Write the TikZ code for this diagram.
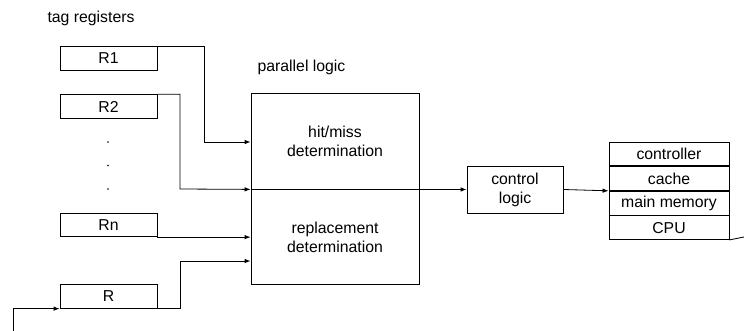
\documentclass[tikz,border=0pt]{standalone}
\usepackage{fontspec}
\setmainfont{Liberation Sans}
\usetikzlibrary{arrows.meta}

\tikzset{
  box/.style={draw, line width=0.8pt, inner sep=0pt, align=center},
  reg/.style={box, minimum width=97, minimum height=23.5},
  flow/.style={line width=0.8pt, -{Latex[length=6pt,width=4.5pt]}},
  wire/.style={line width=0.8pt},
}

\begin{document}
\begin{tikzpicture}[x=1pt,y=1pt,yscale=-1,xscale=1,
  font=\fontsize{15.8}{19}\selectfont]
\useasboundingbox (0,0) rectangle (744,331);

% Text Node
\node (tagreg) at (91,18) {tag registers};
% Text Node
\node (plogic) at (301.5,67) {parallel logic};

%Shape: Registers
\node[reg] (r1) at (108.5,58.5) {R1};
\node[reg] (r2) at (108.5,106.5) {R2};
\node[reg] (rn) at (108.5,225) {Rn};
\node[reg] (r) at (108.5,296.5) {R};
% dots between R2 and Rn
\foreach \y in {142,165.5,189}
  \fill (108,\y) circle (0.9);

%Shape: parallel logic blocks
\node[box, minimum width=168, minimum height=96] (hit) at (335,141) {hit/miss\\determination};
\node[box, minimum width=168, minimum height=95, anchor=north] (repl) at (hit.south) {replacement\\determination};

%Shape: control logic
\node[box, minimum width=96, minimum height=47] (ctrl) at (515,189.5) {control\\logic};

%Shape: stack on the right
\node[box, minimum width=120, minimum height=23.75] (contr) at (669,154) {controller};
\node[box, minimum width=120, minimum height=23.75, anchor=north] (cache) at (contr.south) {cache};
\node[box, minimum width=120, minimum height=23.75, anchor=north] (mem) at (cache.south) {main memory};
\node[box, minimum width=120, minimum height=23.75, anchor=north] (cpu) at (mem.south) {CPU};

% bend points and free ends
\coordinate (r1tap) at (204,142);
\coordinate (r2tap) at (180,189);
\coordinate (rtap) at (180,261);
\coordinate (in) at (13,331);
\coordinate (out) at (744,237);

%Straight Lines
\draw[flow] (r1.north east) -| (r1tap) -- (r1tap -| hit.west);
\draw[flow] (r2.north east) -| (r2tap) -- (hit.south west);
\draw[flow] (rn.south east) -- (rn.south east -| repl.west);
\draw[flow] (r.south east) -| (rtap) -- (rtap -| repl.west);
\draw[flow] (in) |- (r.south west);
\draw[flow] (hit.south east) -- (ctrl.west);
\draw[flow] (ctrl.east) -- (cache.south west);
\draw[wire] (cpu.south east) -- (out);

\end{tikzpicture}
\end{document}
